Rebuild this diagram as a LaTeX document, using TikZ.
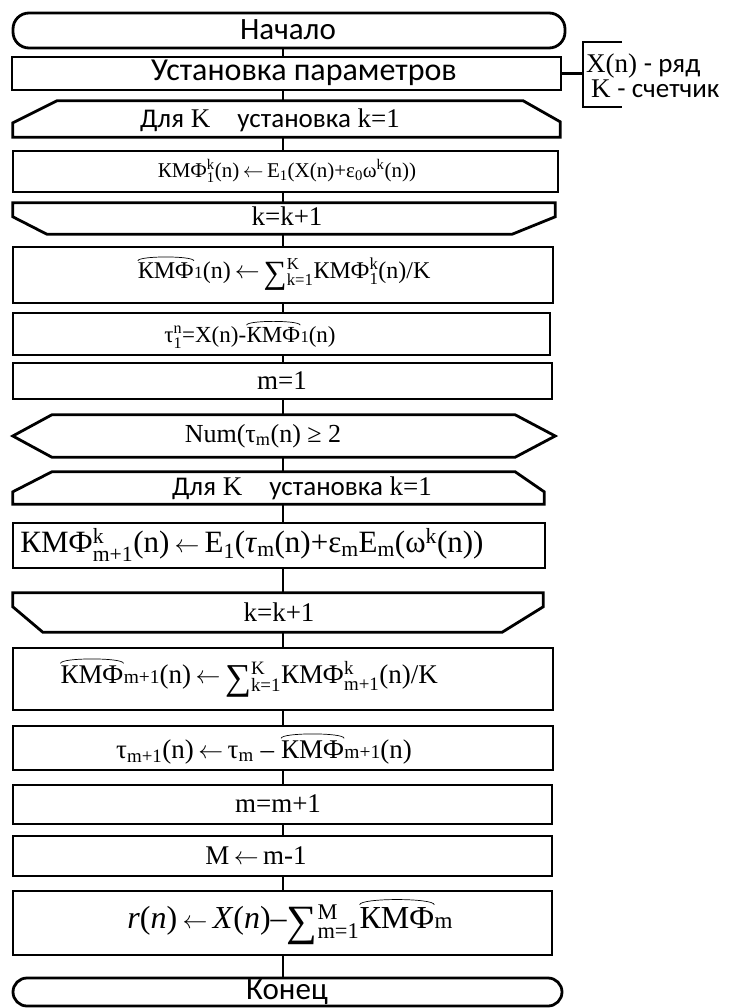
\documentclass[tikz,border=0pt]{standalone}
\usepackage{fontspec}
\usepackage{amsmath}
\usepackage{graphicx}
\setmainfont{Liberation Serif}
\newfontfamily\sansf{Carlito}
\usetikzlibrary{calc}
\newcommand\SupSub[2]{\ensuremath{{}^{\text{#1}}_{\text{#2}}}}
\newcommand\Sup[1]{\ensuremath{{}^{\text{#1}}}}
\newcommand\Sub[1]{\ensuremath{{}_{\text{#1}}}}
\newcommand\Sm[1]{\scalebox{0.72}{#1}}
\newcommand\La{\,$\leftarrow$\,}
\newcommand\Sum{\raisebox{-0.22em}{\scalebox{1.35}{∑}}}
\newcommand\Arc[1]{\tikz[baseline=(ar.base),x=1pt,y=1pt]{\node[inner sep=0pt,outer sep=0pt,draw=none,fill=none,rectangle,anchor=center] (ar) {#1};\draw[line width=0.7pt,black] ([yshift=0.08em]ar.north west) .. controls ([yshift=0.3em]ar.north west) and ([yshift=0.3em]ar.north east) .. ([yshift=0.08em]ar.north east);}}
\begin{document}
\begin{tikzpicture}[x=1pt,y=-1pt,
  shp/.style={draw, line width=2.8pt, line join=miter},
  box/.style={shp, rectangle, inner sep=0pt},
  ghost/.style={rectangle, inner sep=0pt},
  conn/.style={line width=2.2pt},
  sanst/.style={inner sep=0pt, font=\fontsize{#1}{#1}\selectfont\sansf},
  serift/.style={inner sep=0pt, font=\fontsize{#1}{#1}\selectfont}]
\useasboundingbox (0,0) rectangle (728,1008);
% shapes
\node[box, rounded corners=16pt, minimum width=552, minimum height=35] (start) at (289,30.5) {};
\node[box, minimum width=549, minimum height=33] (params) at (286.5,73.5) {};
\node[ghost, minimum width=547, minimum height=36] (l1) at (286.5,119) {};
\draw[shp] (l1.south west) -- ($(l1.north west)+(0,22)$) -- ($(l1.north west)+(44,0)$) -- ($(l1.north east)+(-37,0)$) -- ($(l1.north east)+(0,21)$) -- (l1.south east) -- cycle;
\node[box, minimum width=545, minimum height=41] (kmf1) at (285.5,171.5) {};
\node[ghost, minimum width=542, minimum height=31] (kk1) at (284,218.5) {};
\draw[shp] (kk1.north west) -- (kk1.north east) -- ($(kk1.north east)+(0,14)$) -- ($(kk1.south east)+(-43,0)$) -- ($(kk1.south west)+(34,0)$) -- ($(kk1.north west)+(0,14)$) -- cycle;
\node[box, minimum width=540, minimum height=56] (sum1) at (283,275) {};
\node[box, minimum width=537, minimum height=42] (tau1) at (281.5,334) {};
\node[box, minimum width=539, minimum height=36] (m1) at (282.5,381) {};
\node[ghost, minimum width=542, minimum height=42] (num) at (284,436) {};
\draw[shp] (num.west) -- ($(num.north west)+(39,0)$) -- ($(num.north east)+(-40,0)$) -- (num.east) -- ($(num.south east)+(-40,0)$) -- ($(num.south west)+(39,0)$) -- cycle;
\node[ghost, minimum width=531, minimum height=32] (l2) at (278.5,488) {};
\draw[shp] (l2.south west) -- ($(l2.north west)+(0,20)$) -- ($(l2.north west)+(39,0)$) -- ($(l2.north east)+(-29,0)$) -- ($(l2.north east)+(0,20)$) -- (l2.south east) -- cycle;
\node[box, minimum width=532, minimum height=45] (kmf2) at (279,545.5) {};
\node[ghost, minimum width=530, minimum height=39] (kk2) at (278,612.5) {};
\draw[shp] (kk2.north west) -- (kk2.north east) -- ($(kk2.north east)+(0,14)$) -- ($(kk2.south east)+(-41,0)$) -- ($(kk2.south west)+(30,0)$) -- ($(kk2.north west)+(0,14)$) -- cycle;
\node[box, minimum width=540, minimum height=62] (sum2) at (283,679) {};
\node[box, minimum width=540, minimum height=44] (tau2) at (283,748) {};
\node[box, minimum width=539, minimum height=39] (mm) at (282.5,804.5) {};
\node[box, minimum width=539, minimum height=40] (Mm) at (282.5,856) {};
\node[box, minimum width=539, minimum height=64] (rr) at (282.5,923) {};
\node[box, rounded corners=14pt, minimum width=549, minimum height=28] (end) at (287.5,992) {};
% connectors
\coordinate (cx) at (283,0);
\draw[conn] (start.south -| cx) -- (params.north -| cx);
\draw[conn] (params.south -| cx) -- (l1.north -| cx);
\draw[conn] (l1.south -| cx) -- (kmf1.north -| cx);
\draw[conn] (kmf1.south -| cx) -- (kk1.north -| cx);
\draw[conn] (kk1.south -| cx) -- (sum1.north -| cx);
\draw[conn] (sum1.south -| cx) -- (tau1.north -| cx);
\draw[conn] (tau1.south -| cx) -- (m1.north -| cx);
\draw[conn] (m1.south -| cx) -- (num.north -| cx);
\draw[conn] (num.south -| cx) -- (l2.north -| cx);
\draw[conn] (l2.south -| cx) -- (kmf2.north -| cx);
\draw[conn] (kmf2.south -| cx) -- (kk2.north -| cx);
\draw[conn] (kk2.south -| cx) -- (sum2.north -| cx);
\draw[conn] (sum2.south -| cx) -- (tau2.north -| cx);
\draw[conn] (tau2.south -| cx) -- (mm.north -| cx);
\draw[conn] (mm.south -| cx) -- (Mm.north -| cx);
\draw[conn] (Mm.south -| cx) -- (rr.north -| cx);
\draw[conn] (rr.south -| cx) -- (end.north -| cx);
% annotation bracket
\coordinate (brt) at (583,42);
\coordinate (brb) at (583,107);
\draw[conn] (params.east) -- (params.east -| brt);
\draw[shp] ($(brt)+(39,0)$) -- (brt) -- (brb) -- ($(brb)+(39,0)$);
\node[serift=27, anchor=west] (ann1) at (586,66) {X(n) {\sansf - ряд}};
\node[serift=27, anchor=west] (ann2) at (591,89) {K {\sansf - счетчик}};
% texts
\node[sanst=31] (t1) at (288,30) {Начало};
\node[sanst=32] (t2) at (304,73) {Установка параметров};
\node[serift=27] (t3) at (270,120) {{\sansf Для} K\quad{\sansf установка} k=1};
\node[serift=21] (t4) at (287,171) {КМФ\SupSub{k}{1}(n)\La E\Sub{1}(X(n)+ε\Sub{0}ω\Sup{k}(n))};
\node[serift=27] (t5) at (287,216) {k=k+1};
\node[serift=24] (t6) at (284,273) {\Arc{КМФ}\Sm{1}(n)\La\Sum\SupSub{K}{k=1}КМФ\SupSub{k}{1}(n)/K};
\node[serift=23] (t7) at (250,334) {τ\SupSub{n}{1}=X(n)-\Arc{КМФ}\Sm{1}(n)};
\node[serift=27] (t8) at (282,381) {m=1};
\node[serift=26] (t9) at (263,436) {Num(τ\Sub{m}(n) ≥ 2};
\node[serift=27] (t10) at (302,488) {{\sansf Для} K\quad{\sansf установка} k=1};
\node[serift=31] (t11) at (252,545) {КМФ\SupSub{k}{m+1}(n)\La E\Sub{1}(\textit{τ}\Sub{m}(n)+ε\Sub{m}E\Sub{m}(ω\Sup{k}(n))};
\node[serift=27] (t12) at (279,612) {k=k+1};
\node[serift=27] (t13) at (249,677) {\Arc{КМФ}\Sm{m+1}(n)\La\Sum\SupSub{K}{k=1}КМФ\SupSub{k}{m+1}(n)/K};
\node[serift=27] (t14) at (264,748) {τ\Sub{m+1}(n)\La τ\Sub{m} – \Arc{КМФ}\Sm{m+1}(n)};
\node[serift=27] (t15) at (278,804) {m=m+1};
\node[serift=27] (t16) at (256,856) {M\La m-1};
\node[serift=32] (t17) at (290,921) {\textit{r}(\textit{n})\La\textit{X}(\textit{n})–\Sum\SupSub{M}{m=1}\Arc{КМФ}\Sm{m}};
\node[sanst=31] (t18) at (287,992) {Конец};
\end{tikzpicture}
\end{document}
